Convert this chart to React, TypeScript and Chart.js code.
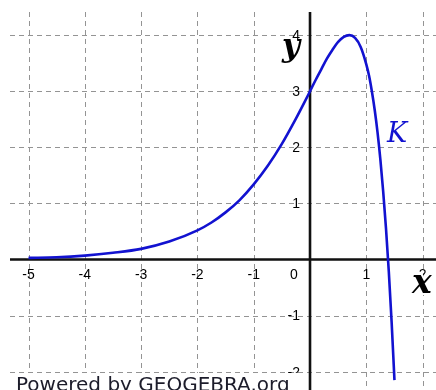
import { useEffect, useRef } from "react";
import { Chart, registerables } from "chart.js";

Chart.register(...registerables);

// Sampled points of curve K
const xValues = [
  -5, -4.5, -4, -3.5, -3, -2.5, -2, -1.75, -1.5, -1.25, -1, -0.75, -0.5, -0.25, -0.1, 0,
  0.1, 0.2, 0.3, 0.4, 0.5, 0.6, 0.7, 0.8, 0.9, 1.0, 1.05, 1.1, 1.15, 1.2, 1.25, 1.3, 1.35, 1.4,
  1.45, 1.5,
];
const kValues = [
  0.03, 0.04, 0.07, 0.12, 0.19, 0.32, 0.52, 0.66, 0.84, 1.06, 1.34, 1.67, 2.06, 2.51, 2.8, 3.0,
  3.2, 3.39, 3.58, 3.74, 3.88, 3.97, 4.0, 3.95, 3.79, 3.48, 3.27, 2.99, 2.66, 2.26, 1.78, 1.21,
  0.55, -0.22, -1.12, -2.15,
];

// Axis ticks and their labels
const xTicks = [-5, -4, -3, -2, -1, 0, 1, 2];
const xTickLabels = ["-5", "-4", "-3", "-2", "-1", "0", "1", "2"];
const yTicks = [-2, -1, 1, 2, 3, 4];
const yTickLabels = ["-2", "-1", "1", "2", "3", "4"];

const curveName = "K";
const xAxisName = "x";
const yAxisName = "y";
const creditText = "Powered by GEOGEBRA.org";

// Visible window of the coordinate system
const X_MIN = -5.329;
const X_MAX = 2.238;
const Y_MIN = -2.326;
const Y_MAX = 4.412;

const CURVE_COLOR = "#1212d0";
const GRID_COLOR = "#949494";
const AXIS_COLOR = "#111111";

const geoPlugin = {
  id: "geoAxes",
  beforeDatasetsDraw(chart: any) {
    const { ctx, chartArea: a, scales } = chart;
    const sx = scales.x;
    const sy = scales.y;
    ctx.save();
    // dashed grid
    ctx.strokeStyle = GRID_COLOR;
    ctx.lineWidth = 1;
    ctx.setLineDash([5, 4]);
    for (const v of xTicks) {
      const px = Math.round(sx.getPixelForValue(v)) + 0.5;
      ctx.beginPath();
      ctx.moveTo(px, a.top);
      ctx.lineTo(px, a.bottom);
      ctx.stroke();
    }
    for (const v of yTicks) {
      const py = Math.round(sy.getPixelForValue(v)) + 0.5;
      ctx.beginPath();
      ctx.moveTo(a.left, py);
      ctx.lineTo(a.right, py);
      ctx.stroke();
    }
    ctx.setLineDash([]);
    // axes through the origin
    const x0 = sx.getPixelForValue(0);
    const y0 = sy.getPixelForValue(0);
    ctx.strokeStyle = AXIS_COLOR;
    ctx.lineWidth = 2.6;
    ctx.beginPath();
    ctx.moveTo(a.left, y0);
    ctx.lineTo(a.right, y0);
    ctx.moveTo(x0, a.top);
    ctx.lineTo(x0, a.bottom);
    ctx.stroke();
    ctx.restore();
  },
  afterDatasetsDraw(chart: any) {
    const { ctx, scales } = chart;
    const sx = scales.x;
    const sy = scales.y;
    const x0 = sx.getPixelForValue(0);
    const y0 = sy.getPixelForValue(0);
    ctx.save();
    // tick labels
    ctx.fillStyle = "#000000";
    ctx.font = '14px "Liberation Sans", Arial, sans-serif';
    ctx.textBaseline = "middle";
    xTicks.forEach((v, i) => {
      ctx.textAlign = "center";
      const px = v === 0 ? x0 - 16 : sx.getPixelForValue(v);
      ctx.fillText(xTickLabels[i], px, y0 + 16);
    });
    ctx.textAlign = "right";
    yTicks.forEach((v, i) => {
      ctx.fillText(yTickLabels[i], x0 - 10, sy.getPixelForValue(v) + 1);
    });

    // axis names
    ctx.font = 'bold italic 31px "DejaVu Serif", serif';
    ctx.textBaseline = "alphabetic";
    ctx.textAlign = "center";
    ctx.fillStyle = "#000000";
    ctx.fillText(yAxisName, x0 - 19, 56);
    ctx.font = 'bold italic 33px "DejaVu Serif", serif';
    ctx.textAlign = "left";
    ctx.lineWidth = 4;
    ctx.strokeStyle = "#ffffff";
    ctx.strokeText(xAxisName, 412, 293);
    ctx.fillText(xAxisName, 412, 293);

    // curve name
    ctx.font = 'italic 27px "DejaVu Serif", serif';
    ctx.fillStyle = CURVE_COLOR;
    ctx.fillText(curveName, 387, 142);

    // credit line
    ctx.fillStyle = "#ffffff";
    ctx.fillRect(0, 373, 301, 17);
    ctx.font = '20px "DejaVu Sans", sans-serif';
    ctx.fillStyle = "#1c1c2a";
    ctx.fillText(creditText, 16, 391);
    ctx.restore();
  },
};

export default function App() {
  const ref = useRef<HTMLCanvasElement>(null);
  useEffect(() => {
    const chart = new Chart(ref.current as HTMLCanvasElement, {
      type: "line",
      data: {
        datasets: [
          {
            data: xValues.map((x, i) => ({ x, y: kValues[i] })),
            borderColor: CURVE_COLOR,
            borderWidth: 2.6,
            pointRadius: 0,
            fill: false,
            cubicInterpolationMode: "monotone",
          },
        ],
      },
      options: {
        responsive: false,
        animation: false,
        devicePixelRatio: 1,
        events: [],
        layout: { padding: { left: 10, top: 12, right: 0, bottom: 0 } },
        plugins: { legend: { display: false }, tooltip: { enabled: false } },
        scales: {
          x: { type: "linear", display: false, min: X_MIN, max: X_MAX },
          y: { type: "linear", display: false, min: Y_MIN, max: Y_MAX },
        },
      },
      plugins: [geoPlugin],
    } as any);
    return () => chart.destroy();
  }, []);
  return (
    <div style={{ position: "fixed", left: 0, top: 0, width: 436, height: 390, background: "#ffffff" }}>
      <canvas ref={ref} width={436} height={390} style={{ display: "block" }} />
    </div>
  );
}
